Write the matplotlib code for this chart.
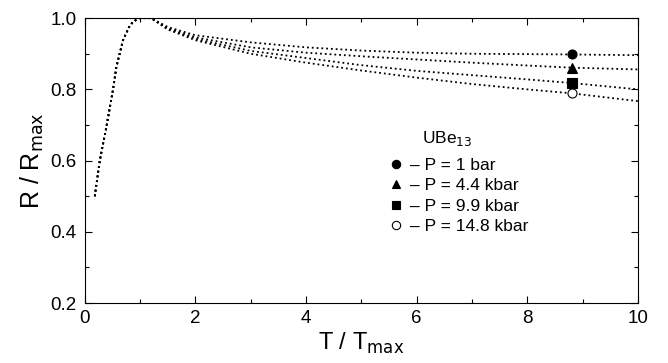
import matplotlib
matplotlib.use("Agg")
from matplotlib import pyplot as plt
from matplotlib.lines import Line2D
from matplotlib.ticker import MultipleLocator

plt.rcParams['font.family'] = ['Liberation Sans', 'DejaVu Sans']

# common low-temperature part (same for all pressures after normalisation)
t_rise = [0.18, 0.27, 0.39, 0.51, 0.57, 0.69, 0.80, 0.87, 0.99, 1.10]
r_rise = [0.50, 0.60, 0.695, 0.80, 0.863, 0.938, 0.975, 0.99, 1.0, 1.0]

# high-temperature tails
t_tail = [1.2, 1.5, 2, 3, 4, 5, 6, 7, 8, 8.8, 10]
r_1bar = [1.0, 0.975, 0.952, 0.932, 0.918, 0.909, 0.903, 0.900, 0.899, 0.898, 0.896]
r_4p4 = [1.0, 0.972, 0.946, 0.918, 0.903, 0.893, 0.884, 0.875, 0.867, 0.861, 0.856]
r_9p9 = [1.0, 0.970, 0.942, 0.908, 0.888, 0.868, 0.852, 0.840, 0.828, 0.818, 0.800]
r_14p8 = [1.0, 0.968, 0.938, 0.900, 0.875, 0.853, 0.833, 0.815, 0.800, 0.789, 0.767]

labels = ['– P = 1 bar', '– P = 4.4 kbar', '– P = 9.9 kbar', '– P = 14.8 kbar']
markers = ['o', '^', 's', 'o']
filled = [True, True, True, False]
t_mark = 8.8

fig = plt.figure(figsize=(6.68, 3.63), dpi=100)
ax = fig.add_axes([0.127, 0.165, 0.828, 0.785])

handles = []
for r, m, f in zip([r_1bar, r_4p4, r_9p9, r_14p8], markers, filled):
    ax.plot(t_rise + t_tail, r_rise + r, color='black', linestyle=':', linewidth=1.3)
    i = t_tail.index(t_mark)
    fc = 'black' if f else 'white'
    ax.plot([t_mark], [r[i]], marker=m, markersize=6.5, color='black',
            markerfacecolor=fc, markeredgewidth=0.8, linestyle='none')
    handles.append(Line2D([], [], marker=m, markersize=6, color='black',
                          markerfacecolor=fc, markeredgewidth=0.8, linestyle='none'))

ax.set_xlim(0, 10)
ax.set_ylim(0.2, 1.0)
ax.xaxis.set_major_locator(MultipleLocator(2))
ax.xaxis.set_minor_locator(MultipleLocator(1))
ax.yaxis.set_major_locator(MultipleLocator(0.2))
ax.yaxis.set_minor_locator(MultipleLocator(0.1))
ax.yaxis.set_major_formatter(matplotlib.ticker.FormatStrFormatter('%.1f'))
ax.tick_params(which='both', direction='in', top=True, right=True, labelsize=13.5)
ax.tick_params(which='major', length=5, width=0.8)
ax.tick_params(which='minor', length=3, width=0.8)
ax.tick_params(axis='x', pad=5)
ax.tick_params(axis='y', pad=6)
for s in ax.spines.values():
    s.set_linewidth(0.8)

ax.set_xlabel('T / T$_{\\mathrm{max}}$', fontsize=17, labelpad=3)
ax.set_ylabel('R / R$_{\\mathrm{max}}$', fontsize=18, labelpad=3)

ax.text(0.61, 0.578, 'UBe$_{13}$', transform=ax.transAxes, fontsize=12.5, va='center')
ax.legend(handles, labels, loc='upper left', bbox_to_anchor=(0.55, 0.51),
          frameon=False, fontsize=12.5, handlelength=0.8, handletextpad=0.4,
          labelspacing=0.3, borderpad=0, borderaxespad=0)

fig.savefig('out.png', dpi=100)
